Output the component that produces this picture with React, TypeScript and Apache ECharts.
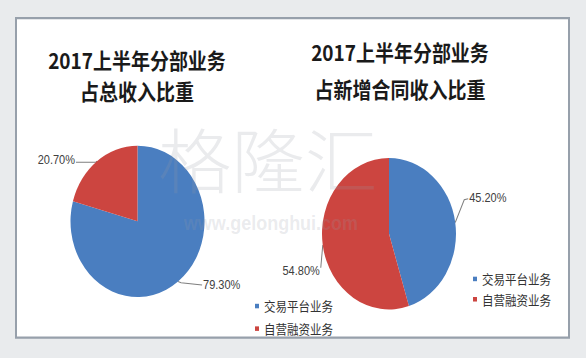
import React, { useEffect, useRef } from 'react';
import * as echarts from 'echarts';

const categories = ['交易平台业务', '自营融资业务'];
const revenueShare = [79.3, 20.7];
const newContractShare = [45.2, 54.8];
const titleLeft = ['2017上半年分部业务', '占总收入比重'];
const titleRight = ['2017上半年分部业务', '占新增合同收入比重'];
const watermark = ['格隆汇', 'www.gelonghui.com'];
const colors = ['#4a7ec0', '#cc4540'];

const W = 586;
const H = 358;
const CH = 317;
const SY = H / CH;
const CJK = "'Noto Sans CJK SC', 'Microsoft YaHei', sans-serif";
const LAT = "'Liberation Sans', Arial, sans-serif";

type Pt = number[];

function leftLayout(params: any) {
  const pts: Pt[] | undefined = params.labelLinePoints;
  if (!pts || !pts.length) return {};
  const [x0, y0] = pts[0];
  if (params.dataIndex === 0) {
    const p1 = [x0 + 3, y0 + 1];
    const p2 = [x0 + 24, y0 + 3];
    return { x: p2[0] + 1, y: p2[1] - 1, align: 'left', verticalAlign: 'middle', labelLinePoints: [[x0, y0], p1, p2] };
  }
  const p1 = [x0 - 1, y0 + 1];
  const p2 = [x0 - 21, y0 + 1];
  return { x: p2[0] - 1, y: p2[1] - 3, align: 'right', verticalAlign: 'middle', labelLinePoints: [[x0, y0], p1, p2] };
}

function rightLayout(params: any) {
  const pts: Pt[] | undefined = params.labelLinePoints;
  if (!pts || !pts.length) return {};
  const [x0, y0] = pts[0];
  if (params.dataIndex === 0) {
    const p1 = [x0 + 9, y0 - 20];
    const p2 = [x0 + 13, y0 - 21];
    return { x: p2[0] + 1, y: p2[1] - 1, align: 'left', verticalAlign: 'middle', labelLinePoints: [[x0, y0], p1, p2] };
  }
  const p1 = [x0 - 2, y0 + 20];
  const p2 = [x0 - 2, y0 + 20];
  return { x: p1[0] - 1, y: p1[1] + 2, align: 'right', verticalAlign: 'middle', labelLinePoints: [[x0, y0], p1, p2] };
}

function pieSeries(name: string, values: number[], center: number[], layout: any) {
  return {
    type: 'pie',
    name,
    center,
    radius: 67,
    startAngle: 90,
    clockwise: true,
    avoidLabelOverlap: false,
    data: categories.map((c, i) => ({ name: c, value: values[i], itemStyle: { color: colors[i] } })),
    itemStyle: { borderWidth: 0 },
    label: {
      show: true,
      position: 'outside',
      formatter: (p: any) => `${Number(p.value).toFixed(2)}%`,
      fontSize: 11,
      color: '#404040',
      fontFamily: LAT,
    },
    labelLine: { show: true, length: 4, length2: 20, lineStyle: { color: '#7f7f7f', width: 1 } },
    labelLayout: layout,
    emphasis: { disabled: true },
    z: 2,
  };
}

function legendFor(left: number, top: number, gap: number) {
  return {
    data: categories,
    orient: 'vertical',
    left,
    top,
    padding: 0,
    icon: 'rect',
    itemWidth: 4,
    itemHeight: 4,
    itemGap: gap,
    selectedMode: false,
    textStyle: { fontSize: 11.5, color: '#333', lineHeight: 14, fontFamily: CJK },
  };
}

function titleText(text: string, x: number, y: number) {
  return {
    type: 'text',
    z: 5,
    style: {
      text,
      x,
      y,
      textAlign: 'center',
      textVerticalAlign: 'middle',
      font: `bold 19px ${CJK}`,
      fill: '#1a1a1a',
    },
  };
}

export default function App() {
  const ref = useRef<HTMLDivElement>(null);
  useEffect(() => {
    document.body.style.margin = '0';
    const chart = echarts.init(ref.current!, undefined, { renderer: 'svg', width: W, height: CH });
    chart.setOption({
      animation: false,
      backgroundColor: '#e9ebed',
      graphic: [
        {
          type: 'rect',
          z: -10,
          shape: { x: 16, y: 16, width: 553, height: 283 },
          style: { fill: '#ffffff', stroke: '#97a0ab', lineWidth: 2 },
        },
        titleText(titleLeft[0], 137, 53),
        titleText(titleLeft[1], 137, 80),
        titleText(titleRight[0], 400, 46),
        titleText(titleRight[1], 400, 78),
        {
          type: 'text',
          z: 20,
          silent: true,
          x: 268,
          y: 140,
          scaleX: 1.18,
          style: {
            text: watermark[0],
            x: 0,
            y: 0,
            textAlign: 'center',
            textVerticalAlign: 'middle',
            font: `300 62px ${CJK}`,
            fill: 'rgba(150,156,166,0.2)',
          },
        },
        {
          type: 'text',
          z: 20,
          silent: true,
          style: {
            text: watermark[1],
            x: 271,
            y: 198,
            textAlign: 'center',
            textVerticalAlign: 'middle',
            font: `bold 18px ${LAT}`,
            fill: 'rgba(150,156,166,0.2)',
          },
        },
      ],
      legend: [legendFor(255, 264, 6), legendFor(473, 240, 4)],
      series: [
        pieSeries('占总收入比重', revenueShare, [137.5, 196], leftLayout),
        pieSeries('占新增合同收入比重', newContractShare, [389, 207], rightLayout),
      ],
    });
    return () => chart.dispose();
  }, []);
  return (
    <div style={{ position: 'fixed', left: 0, top: 0, width: W, height: H, overflow: 'hidden', background: '#e9ebed' }}>
      <div ref={ref} style={{ width: W, height: CH, transform: `scaleY(${SY})`, transformOrigin: '0 0' }} />
    </div>
  );
}
